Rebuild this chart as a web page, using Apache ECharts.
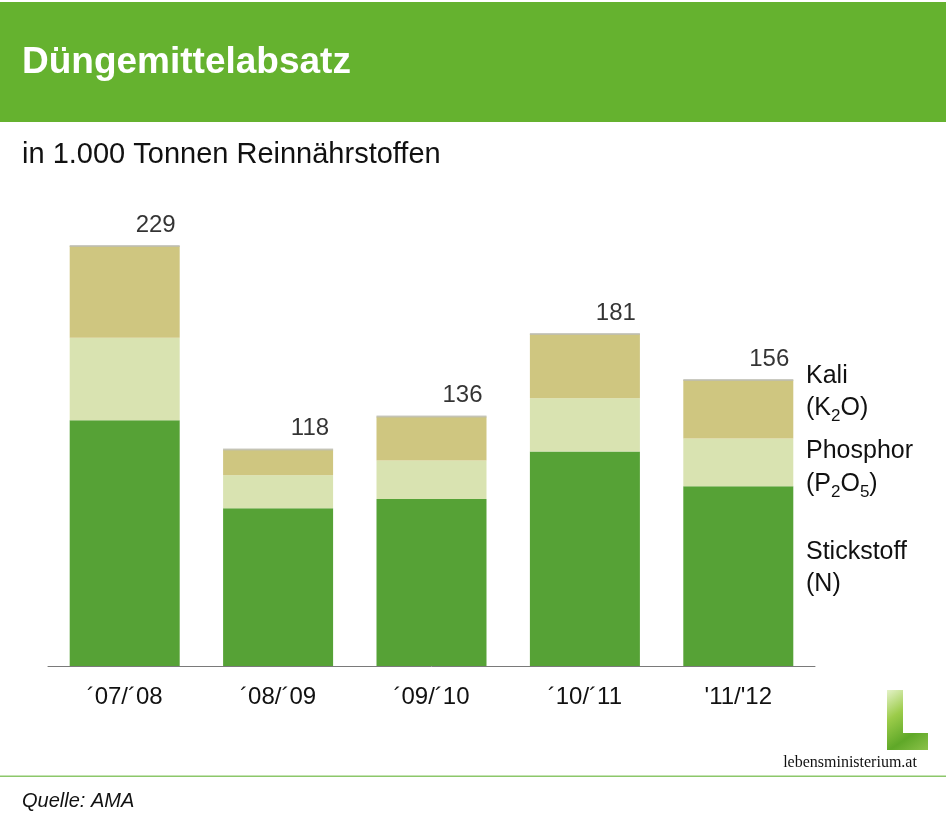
<!DOCTYPE html>
<html><head><meta charset="utf-8">
<script src="https://cdn.jsdelivr.net/npm/echarts@6/dist/echarts.min.js"></script>
<style>html,body{margin:0;padding:0;background:#fff}#c{width:946px;height:817px}</style>
</head><body><div id="c"></div>
<script>
const categories = ["´07/´08", "´08/´09", "´09/´10", "´10/´11", "'11/'12"];
const stickstoff = [134, 86, 91, 117, 98];
const phosphor   = [45, 18, 21, 29, 26];
const kali       = [50, 14, 24, 35, 32];
const totals     = [229, 118, 136, 181, 156];

const FONT = '"Liberation Sans", Arial, Helvetica, sans-serif';
const chart = echarts.init(document.getElementById('c'), null, {renderer: 'canvas'});

const ctx = document.createElement('canvas').getContext('2d');
function tw(t, font) { ctx.font = font; return ctx.measureText(t).width; }
const LF = '25px ' + FONT, SF = '17px ' + FONT;

// legend text with subscripts drawn as separate pieces
function subText(parts, x, y) {
  const out = [];
  let cx = x;
  parts.forEach(p => {
    const f = p.sub ? SF : LF;
    out.push({type: 'text', x: cx, y: p.sub ? y + 8 : y,
      style: {text: p.t, fill: '#111', font: f, verticalAlign: 'middle'}});
    cx += tw(p.t, f);
  });
  return out;
}

const barW = 110;
const option = {
  animation: false,
  backgroundColor: '#ffffff',
  grid: {left: 48, right: 131, top: 207.5, bottom: 151, containLabel: false},
  xAxis: {
    type: 'category', data: categories,
    axisLine: {lineStyle: {color: '#7a7a7a', width: 1}},
    axisTick: {show: false},
    axisLabel: {color: '#111', fontSize: 24, fontFamily: FONT, margin: 19}
  },
  yAxis: {type: 'value', min: 0, max: 250, show: false, splitLine: {show: false}},
  series: [
    {name: 'Stickstoff (N)', type: 'bar', stack: 't', data: stickstoff, barWidth: barW,
     itemStyle: {color: '#56a236'}},
    {name: 'Phosphor (P2O5)', type: 'bar', stack: 't', data: phosphor, barWidth: barW,
     itemStyle: {color: '#d9e3b1'}},
    {name: 'Kali (K2O)', type: 'bar', stack: 't', data: kali, barWidth: barW,
     itemStyle: {color: '#cfc680'}},
    {name: 'Gesamt', type: 'scatter', data: totals, symbol: 'rect', symbolSize: [barW, 2],
     itemStyle: {color: '#bdbdb2'}, z: 5,
     label: {show: true, position: 'top', distance: 8, align: 'right', offset: [barW / 2 - 4, 0],
       color: '#000', fontSize: 24, fontFamily: FONT}}
  ],
  graphic: [
    {type: 'rect', shape: {x: 0, y: 2, width: 946, height: 120}, style: {fill: '#65b22f'}, silent: true},
    {type: 'text', x: 22, y: 63, style: {text: 'Düngemittelabsatz', fill: '#ffffff', font: 'bold 37px ' + FONT, verticalAlign: 'middle'}},
    {type: 'text', x: 22, y: 155, style: {text: 'in 1.000 Tonnen Reinnährstoffen', fill: '#111', font: '29px ' + FONT, verticalAlign: 'middle'}},
    {type: 'text', x: 806, y: 376, style: {text: 'Kali', fill: '#111', font: LF, verticalAlign: 'middle'}},
    ...subText([{t: '(K'}, {t: '2', sub: true}, {t: 'O)'}], 806, 408),
    {type: 'text', x: 806, y: 451, style: {text: 'Phosphor', fill: '#111', font: LF, verticalAlign: 'middle'}},
    ...subText([{t: '(P'}, {t: '2', sub: true}, {t: 'O'}, {t: '5', sub: true}, {t: ')'}], 806, 484),
    {type: 'text', x: 806, y: 552, style: {text: 'Stickstoff', fill: '#111', font: LF, verticalAlign: 'middle'}},
    {type: 'text', x: 806, y: 584, style: {text: '(N)', fill: '#111', font: LF, verticalAlign: 'middle'}},
    {type: 'polygon', shape: {points: [[887,690],[903,690],[903,733],[928,733],[928,750],[887,750]]},
      style: {fill: new echarts.graphic.LinearGradient(0, 0, 1, 1, [
        {offset: 0, color: '#e4f2c8'}, {offset: 0.35, color: '#9ccc4a'}, {offset: 0.7, color: '#5fa828'}, {offset: 1, color: '#8cc24a'}])}},
    {type: 'text', x: 850, y: 763, style: {text: 'lebensministerium.at', fill: '#111', font: '16px "Liberation Serif", "Times New Roman", serif', align: 'center', verticalAlign: 'middle'}},
    {type: 'rect', shape: {x: 0, y: 775.5, width: 946, height: 1.5}, style: {fill: '#8cc76a'}},
    {type: 'text', x: 22, y: 801, style: {text: 'Quelle: AMA', fill: '#111', font: 'italic 20px ' + FONT, verticalAlign: 'middle'}}
  ]
};
chart.setOption(option);
</script></body></html>
